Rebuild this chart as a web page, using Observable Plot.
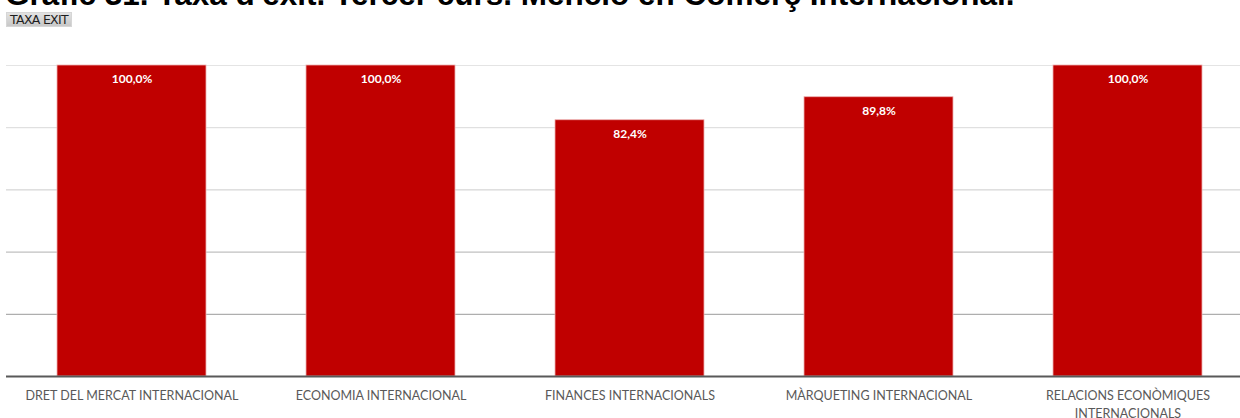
<!DOCTYPE html>
<html>
<head>
<meta charset="utf-8">
<script src="https://cdn.jsdelivr.net/npm/d3@7"></script>
<script src="https://cdn.jsdelivr.net/npm/@observablehq/plot@0.6"></script>
<style>
  html, body { margin: 0; padding: 0; background: #fff; overflow: hidden; width: 1240px; height: 418px; position: relative; }
  #title { position: absolute; left: 5px; top: -6.5px; height: 0; font-family: "Liberation Sans", Arial, sans-serif; font-weight: bold; font-size: 31.5px; line-height: 0; color: #000; white-space: nowrap; }
  #btn { position: absolute; left: 6px; top: 12px; width: 66px; height: 15px; box-sizing: border-box; background: linear-gradient(#e2e2e2, #c8c8c8); border: 1px solid #d6d6d6; font-family: "DejaVu Sans", sans-serif; font-size: 12.5px; line-height: 13px; color: #1e1e1e; text-align: center; letter-spacing: -0.7px; white-space: nowrap; }
  #chart { position: absolute; left: 0; top: 30px; width: 1253px; }
  #chart svg { max-width: none !important; }
</style>
</head>
<body>
<div id="title">Gràfic 31. Taxa d'èxit. Tercer curs. Menció en Comerç Internacional.</div>
<div id="btn">TAXA EXIT</div>
<div id="chart"></div>
<script>
const categories = [
  "DRET DEL MERCAT INTERNACIONAL",
  "ECONOMIA INTERNACIONAL",
  "FINANCES INTERNACIONALS",
  "MÀRQUETING INTERNACIONAL",
  "RELACIONS ECONÒMIQUES\nINTERNACIONALS"
];
const values = [100.0, 100.0, 82.4, 89.8, 100.0];
const gridTicks = [20, 40, 60, 80, 100];

const rows = categories.map((c, i) => ({cat: c, value: values[i]}));
const gridColors = {20: "#9a9a9a", 40: "#b0b0b0", 60: "#cbcbcb", 80: "#d9d9d9", 100: "#e4e4e4"};
const fmt = v => v.toFixed(1).replace(".", ",") + "%";

const chart = Plot.plot({
  width: 1253,
  height: 388,
  marginLeft: 6,
  marginRight: 0,
  marginTop: 35,
  marginBottom: 42,
  style: {background: "transparent", overflow: "visible", maxWidth: "none"},
  x: {domain: categories, paddingInner: 0.4, paddingOuter: 0.2, label: null},
  y: {domain: [0, 100], axis: null},
  marks: [
    Plot.ruleY(gridTicks, {stroke: d => gridColors[d], strokeWidth: 1}),
    Plot.barY(rows, {x: "cat", y: "value", fill: "#c00000", stroke: "#eeb0b0", strokeWidth: 0.8}),
    Plot.ruleY([0], {stroke: "#595959", strokeWidth: 2}),
    Plot.text(rows, {x: "cat", y: "value", text: d => fmt(d.value), dy: 14, fill: "#ffffff", fontWeight: "bold", fontSize: 12, fontFamily: "Lato, sans-serif"}),
    Plot.axisX({tickSize: 0, tickPadding: 11, fontSize: 12.5, fill: "#595959", fontFamily: "Lato, sans-serif", lineHeight: 1.44, label: null})
  ]
});
document.getElementById("chart").appendChild(chart);
</script>
</body>
</html>
